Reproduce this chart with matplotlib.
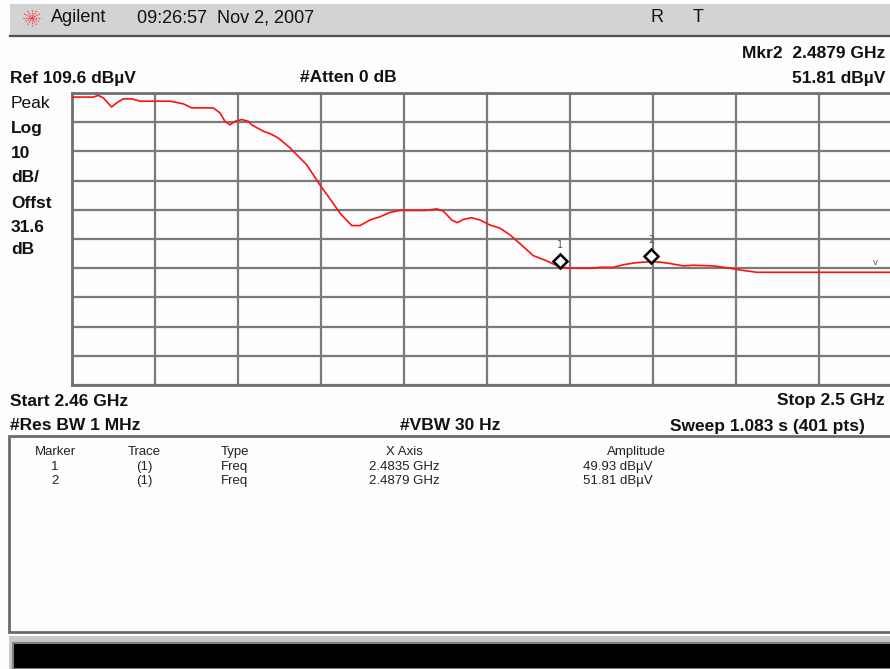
"""Agilent spectrum analyser screen shot - band edge sweep 2.46 - 2.50 GHz."""

import numpy as np
import matplotlib
matplotlib.use("Agg")
import matplotlib.pyplot as plt
import matplotlib.transforms as mtransforms
from matplotlib.patches import Rectangle
from matplotlib.lines import Line2D

# ===========================================================================
#  DATA
# ===========================================================================
freq_ghz = [2.46000, 2.46103, 2.46127, 2.46151, 2.46191, 2.46215, 2.46247,
            2.46288, 2.46328, 2.46472, 2.46536, 2.46577, 2.46681, 2.46713,
            2.46737, 2.46761, 2.46786, 2.46818, 2.46850, 2.46866, 2.46922,
            2.46954, 2.46994, 2.47051, 2.47131, 2.47195, 2.47259, 2.47292,
            2.47348, 2.47388, 2.47436, 2.47484, 2.47533, 2.47581, 2.47701,
            2.47758, 2.47789, 2.47830, 2.47857, 2.47886, 2.47926, 2.47966,
            2.48014, 2.48063, 2.48111, 2.48167, 2.48223, 2.48288, 2.48352,
            2.48400, 2.48512, 2.48545, 2.48609, 2.48657, 2.48721, 2.48786,
            2.48834, 2.48882, 2.48946, 2.48994, 2.49090, 2.49171, 2.49219,
            2.49300, 2.50000]
level_dbuv = [108.2, 108.2, 108.8, 107.9, 104.8, 106.2, 107.6,
              107.6, 106.8, 106.8, 105.9, 104.5, 104.5, 102.8,
              99.9, 98.7, 99.9, 100.5, 99.9, 98.7, 96.5,
              95.7, 94.2, 90.8, 85.0, 78.1, 71.8, 68.4,
              64.2, 64.2, 66.1, 67.2, 68.7, 69.4, 69.4,
              69.9, 69.2, 66.1, 65.2, 66.3, 66.9, 66.1,
              64.4, 63.3, 61.0, 57.5, 53.9, 52.1, 50.0,
              49.6, 49.6, 49.9, 49.9, 50.8, 51.5, 51.8,
              51.7, 51.2, 50.4, 50.6, 50.4, 49.6, 49.0,
              48.2, 48.2]

marker_ids = ["1", "2"]
marker_freq = [2.4835, 2.4879]
marker_amp = [49.93, 51.81]

REF_LEVEL = 109.6
DB_PER_DIV = 10
F_START, F_STOP = 2.46, 2.50

W, H = 890, 669
BOLD = dict(family="Liberation Sans", weight="bold", color="#111111")
REG = dict(family="Liberation Sans", color="#111111")


def px(x, y):
    """pixel position (from top-left) -> figure fraction"""
    return x / W, 1 - y / H


def txt(x, y, s, size=12.5, ha="left", style=BOLD, **kw):
    fx, fy = px(x, y)
    fig.text(fx, fy, s, ha=ha, va="center", fontsize=size, **style, **kw)


# ===========================================================================
#  FIGURE
# ===========================================================================
fig = plt.figure(figsize=(W / 100, H / 100), dpi=100)
fig.patch.set_facecolor("#fdfdfd")

# --- title bar ---
fig.add_artist(Rectangle(px(10, 35), (W - 10) / W, 31 / H, transform=fig.transFigure,
                         facecolor="#d3d3d3", edgecolor="none"))
fig.add_artist(Line2D([10 / W, 1], [1 - 35.5 / H] * 2, transform=fig.transFigure,
                      color="#505050", lw=1.6))
cx, cy = 32, 18
for ang in np.arange(0, 180, 30):
    dx, dy = 9 * np.cos(np.radians(ang)), 8 * np.sin(np.radians(ang))
    x0, y0 = px(cx - dx, cy - dy)
    x1, y1 = px(cx + dx, cy + dy)
    fig.add_artist(Line2D([x0, x1], [y0, y1], transform=fig.transFigure,
                          color="#ff3030", lw=0.9, ls=(0, (1, 1))))
txt(51, 18, "Agilent", size=13, style=REG)
txt(137, 18, "09:26:57  Nov 2, 2007", size=13, style=REG)
txt(657, 18, "R", size=13, ha="center", style=REG)
txt(698, 18, "T", size=13, ha="center", style=REG)

# --- annotations around the graticule ---
txt(885, 54, "Mkr2  2.4879 GHz", ha="right")
txt(10, 78, "Ref 109.6 dBµV")
txt(300, 78, "#Atten 0 dB")
txt(885, 78, "51.81 dBµV", ha="right")
for y, s, st in [(103, "Peak", REG), (128, "Log", BOLD), (153, "10", BOLD),
                 (178, "dB/", BOLD), (203, "Offst", BOLD), (227, "31.6", BOLD),
                 (250, "dB", BOLD)]:
    txt(11, y, s, style=st)
txt(10, 401, "Start 2.46 GHz")
txt(885, 401, "Stop 2.5 GHz", ha="right")
txt(10, 426, "#Res BW 1 MHz")
txt(400, 426, "#VBW 30 Hz")
txt(865, 426, "Sweep 1.083 s (401 pts)", ha="right")

# ===========================================================================
#  GRATICULE + TRACE
# ===========================================================================
x0, y0 = px(72, 385)
ax = fig.add_axes([x0, y0, (902 - 72) / W, (385 - 93) / H])
ax.set_facecolor("#fdfdfd")
ax.set_xlim(F_START, F_STOP)
ax.set_ylim(REF_LEVEL - 10 * DB_PER_DIV, REF_LEVEL)
ax.set_xticks(np.linspace(F_START, F_STOP, 11))
ax.set_yticks(np.linspace(REF_LEVEL - 10 * DB_PER_DIV, REF_LEVEL, 11))
ax.tick_params(length=0, labelbottom=False, labelleft=False)
ax.grid(True, color="#7a7a7a", lw=1.6)
for sp in ax.spines.values():
    sp.set_color("#707070")
    sp.set_linewidth(2)

ax.plot(freq_ghz, level_dbuv, color="#ff1010", lw=1.2, zorder=3)

up6 = ax.transData + mtransforms.ScaledTranslation(0, 6 / 100, fig.dpi_scale_trans)
up19 = ax.transData + mtransforms.ScaledTranslation(0, 22 / 100, fig.dpi_scale_trans)
for mid, mf, ma in zip(marker_ids, marker_freq, marker_amp):
    ax.plot([mf], [ma], marker="D", ms=7.5, mfc="white", mec="black", mew=1.8,
            transform=up6, zorder=4, clip_on=False)
    ax.text(mf, ma, mid, transform=up19, ha="center", va="center",
            fontsize=7, color="#555555", family="DejaVu Sans Mono")
txt(875, 263, "v", size=6, ha="center", style=dict(color="#555555"))

# ===========================================================================
#  MARKER TABLE + STATUS BAR
# ===========================================================================
fig.add_artist(Rectangle(px(9, 632), (W - 9 + 5) / W, (632 - 436) / H,
                         transform=fig.transFigure, facecolor="#fdfdfd",
                         edgecolor="#6a6a6a", lw=2))
TS = dict(family="Liberation Sans", color="#222222")
col_x = [55, 144, 221, 404, 636]
col_ha = ["center", "center", "left", "center", "center"]
header = ["Marker", "Trace", "Type", "X Axis", "Amplitude"]
rows = [["1", "(1)", "Freq", "2.4835 GHz", "49.93 dBµV"],
        ["2", "(1)", "Freq", "2.4879 GHz", "51.81 dBµV"]]
for x, ha, s in zip(col_x, col_ha, header):
    txt(x, 452, s, size=9.5, ha=ha, style=TS)
for y, row in zip([467, 481], rows):
    for i, s in enumerate(row):
        x = 583 if i == 4 else col_x[i]
        h = "left" if i == 4 else col_ha[i]
        txt(x, y, s, size=9.5, ha=h, style=TS)

fig.add_artist(Rectangle(px(9, 669), 1, (669 - 636) / H, transform=fig.transFigure,
                         facecolor="#c8c8c8", edgecolor="none"))
fig.add_artist(Rectangle(px(13, 669), 1, (669 - 643) / H, transform=fig.transFigure,
                         facecolor="#000000", edgecolor="#808080", lw=1.5))

fig.savefig("out.png", dpi=100, facecolor=fig.get_facecolor())
